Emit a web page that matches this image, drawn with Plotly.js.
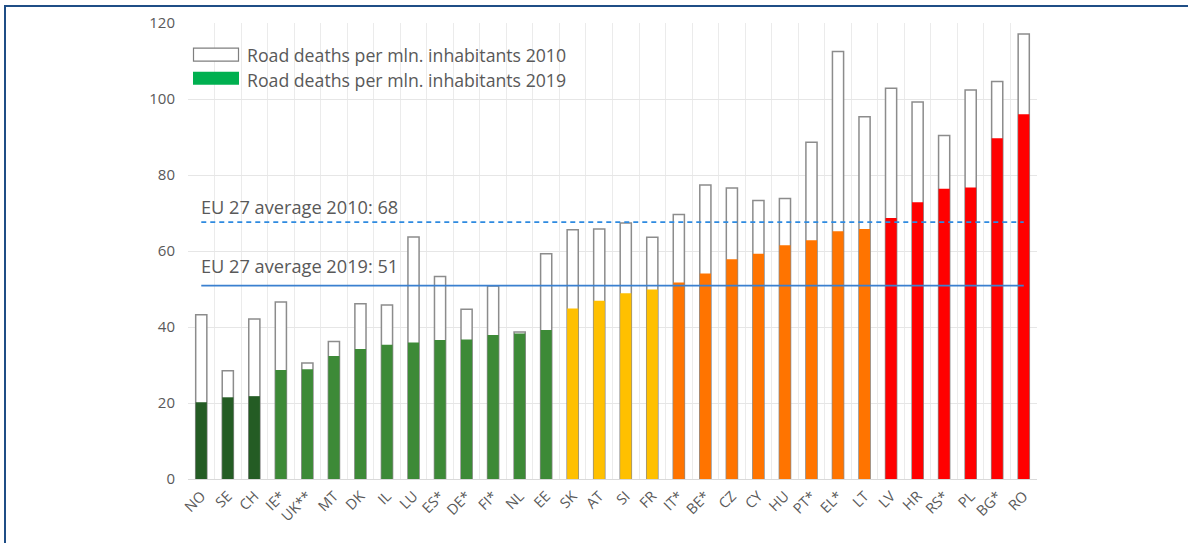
<!DOCTYPE html>
<html>
<head>
<meta charset="utf-8">
<script src="https://cdn.plot.ly/plotly-3.0.1.min.js"></script>
<style>
  html, body { margin: 0; padding: 0; background: #ffffff; }
  #wrap { position: relative; width: 1188px; height: 543px; overflow: hidden; }
  #chart { position: absolute; left: 0; top: 0; width: 1188px; height: 543px; }
  #frame { position: absolute; left: 4px; top: 5px; width: 1190px; height: 545px;
           border-left: 2px solid #1f4e86; border-top: 2px solid #1f4e86; pointer-events: none; }
</style>
</head>
<body>
<div id="wrap">
  <div id="chart"></div>
  <div id="frame"></div>
</div>
<script>
// ---- data ----
const countries = ["NO","SE","CH","IE*","UK**","MT","DK","IL","LU","ES*","DE*","FI*","NL","EE",
                   "SK","AT","SI","FR","IT*","BE*","CZ","CY","HU","PT*","EL*","LT",
                   "LV","HR","RS*","PL","BG*","RO"];
const deaths2010 = [43.2,28.5,42.1,46.6,30.5,36.2,46.1,45.8,63.7,53.3,44.7,50.8,38.7,59.3,
                    65.6,65.8,67.4,63.6,69.6,77.4,76.6,73.3,73.8,88.6,112.5,95.3,
                    102.8,99.2,90.4,102.4,104.6,117.1];
const deaths2019 = [20.2,21.5,21.8,28.7,28.9,32.4,34.2,35.3,35.9,36.6,36.7,37.9,38.3,39.2,
                    44.9,46.9,48.9,49.9,51.7,54.1,57.8,59.3,61.5,62.8,65.2,65.8,
                    68.7,72.8,76.4,76.7,89.7,96.0];
const groups = ["best","best","best","good","good","good","good","good","good","good","good","good","good","good",
                "mid","mid","mid","mid","high","high","high","high","high","high","high","high",
                "worst","worst","worst","worst","worst","worst"];
const euAvg2010 = 67.6;
const euAvg2019 = 50.9;
const avgLabel2010 = "EU 27 average 2010: 68";
const avgLabel2019 = "EU 27 average 2019: 51";
const legend2010 = "Road deaths per mln. inhabitants 2010";
const legend2019 = "Road deaths per mln. inhabitants 2019";
const yTicks = [0,20,40,60,80,100,120];

// ---- styles ----
const palette = { best: "#245c24", good: "#3d8a37", mid: "#ffc000", high: "#ff7400", worst: "#ff0000" };
const textGrey = "#595959";
const font = "'Open Sans', 'Noto Sans', sans-serif";

// plot area in pixels
const W = 1188, H = 543;
const L = 188, R = 1037, T = 23.3, B = 479.3;
const px2x = p => (p - L) / (R - L);
const px2y = p => (B - p) / (B - T);

const traces = [
  {
    type: "bar", x: countries, y: deaths2010, width: 0.42,
    marker: { color: "#ffffff", line: { color: "#8c8c8c", width: 1.5 } },
    hoverinfo: "x+y", showlegend: false
  },
  {
    type: "bar", x: countries, y: deaths2019, width: 0.42,
    marker: { color: groups.map(g => palette[g]), line: { width: 0 } },
    hoverinfo: "x+y", showlegend: false
  },
  {
    type: "scatter", mode: "lines",
    x: [countries[0], countries[countries.length - 1]], y: [euAvg2010, euAvg2010],
    line: { color: "#2e8ae0", width: 1.8, dash: "5px,4px" }, hoverinfo: "skip", showlegend: false
  },
  {
    type: "scatter", mode: "lines",
    x: [countries[0], countries[countries.length - 1]], y: [euAvg2019, euAvg2019],
    line: { color: "#3a80d0", width: 1.8 }, hoverinfo: "skip", showlegend: false
  }
];

const layout = {
  width: W, height: H,
  margin: { l: L, r: W - R, t: T, b: H - B, pad: 0 },
  paper_bgcolor: "#ffffff", plot_bgcolor: "#ffffff",
  barmode: "overlay",
  showlegend: false,
  font: { family: font, color: textGrey },
  xaxis: {
    type: "category", automargin: false,
    tickson: "boundaries", ticks: "",
    showgrid: true, gridcolor: "#ebebeb", gridwidth: 1,
    showline: true, linecolor: "#d9d9d9", linewidth: 1,
    tickangle: -45, tickfont: { family: font, size: 14.5, color: textGrey },
    ticklabelstandoff: 2,
    fixedrange: true
  },
  yaxis: {
    range: [0, 120], tickvals: yTicks, automargin: false,
    showgrid: true, gridcolor: "#e6e6e6", gridwidth: 1,
    zeroline: false, showline: false,
    ticks: "", ticklabelstandoff: 12,
    tickfont: { family: font, size: 15, color: textGrey },
    fixedrange: true
  },
  shapes: [
    { type: "rect", xref: "paper", yref: "paper",
      x0: px2x(193.5), x1: px2x(238.5), y0: px2y(61.5), y1: px2y(48.5),
      fillcolor: "#ffffff", line: { color: "#7f7f7f", width: 1.2 } },
    { type: "rect", xref: "paper", yref: "paper",
      x0: px2x(193), x1: px2x(239), y0: px2y(85), y1: px2y(72),
      fillcolor: "#00b050", line: { width: 0 } }
  ],
  annotations: [
    { xref: "paper", yref: "paper", x: px2x(245), y: px2y(55), xanchor: "left", yanchor: "middle",
      text: legend2010, showarrow: false, font: { family: font, size: 17.7, color: textGrey } },
    { xref: "paper", yref: "paper", x: px2x(245), y: px2y(80.5), xanchor: "left", yanchor: "middle",
      text: legend2019, showarrow: false, font: { family: font, size: 17.7, color: textGrey } },
    { xref: "x", yref: "y", x: countries[0], y: euAvg2010, xanchor: "left", yanchor: "middle",
      xshift: -2, yshift: 15,
      text: avgLabel2010, showarrow: false, font: { family: font, size: 18.2, color: textGrey } },
    { xref: "x", yref: "y", x: countries[0], y: euAvg2019, xanchor: "left", yanchor: "middle",
      xshift: -2, yshift: 20,
      text: avgLabel2019, showarrow: false, font: { family: font, size: 18.2, color: textGrey } }
  ]
};

Plotly.newPlot("chart", traces, layout, { staticPlot: true, displayModeBar: false });
</script>
</body>
</html>
